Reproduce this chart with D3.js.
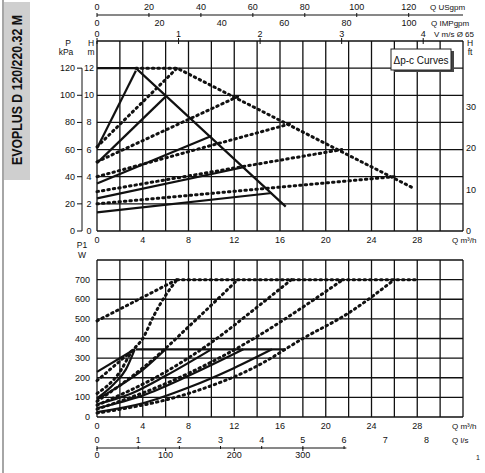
<!DOCTYPE html>
<html><head><meta charset="utf-8">
<script src="https://cdn.jsdelivr.net/npm/d3@7"></script>
<style>body{margin:0;background:#fff}text{font-family:"Liberation Sans",Arial,sans-serif;fill:#111}</style>
</head><body><svg id="c" width="485" height="473"></svg>
<script>
// head curves, Q m3/h vs H m
var headMaxSolid = [[0, 12], [3.4, 12], [16.5, 1.8]];
var headMaxDotted = [[3.4, 12], [7, 12], [27.8, 3.1]];
var headSolid = [
  [[0, 6.1], [3.4, 11.8]],
  [[0, 5], [6, 9.9]],
  [[0, 3.5], [10, 7]],
  [[0, 2.4], [12.8, 4.7]],
  [[0, 1.37], [15.3, 2.8]]
];
var headDotted = [
  [[0, 6.2], [7, 12]],
  [[0, 5.1], [12.3, 9.9]],
  [[0, 4], [16.9, 7.9]],
  [[0, 2.9], [21.4, 6]],
  [[0, 2], [26, 4]]
];
// power curves, Q m3/h vs P1 W
var powerFlatSolid = [[3.4, 345], [16.5, 345]];
var powerFlatDotted = [[7, 700], [28, 700]];
var powerSolid = [
  [[0, 230], [3.3, 345]],
  [[0, 95], [1.5, 170], [2.5, 240], [3.3, 345]],
  [[0, 90], [2, 160], [4, 240], [6, 345]],
  [[0, 65], [3, 120], [6, 210], [10, 345]],
  [[0, 45], [4, 110], [8, 210], [12.8, 345]],
  [[0, 25], [4, 70], [8, 150], [12, 250], [15.3, 345]]
];
var powerDotted = [
  [[0, 490], [6, 670], [7, 700]],
  [[0, 185], [3.2, 345]],
  [[0, 120], [2, 230], [3, 330], [4, 400], [5, 520], [6, 620], [7, 700]],
  [[0, 80], [4, 250], [6, 350], [8, 460], [10, 570], [12.3, 700]],
  [[0, 60], [6, 230], [10, 380], [14, 560], [17, 700]],
  [[0, 40], [6, 170], [10, 280], [14, 410], [18, 560], [21.5, 700]],
  [[0, 20], [8, 120], [14, 260], [18, 400], [22, 530], [26, 700]]
];
var qTicks = [0, 4, 8, 12, 16, 20, 24, 28];
var usgpmTicks = [0, 20, 40, 60, 80, 100, 120];
var impTicks = [0, 20, 40, 60, 80, 100];
var velTicks = [0, 1, 2, 3, 4];
var hTicks = [0, 2, 4, 6, 8, 10, 12];
var kpaTicks = [0, 20, 40, 60, 80, 100, 120];
var ftTicks = [0, 10, 20, 30];
var pTicks = [0, 100, 200, 300, 400, 500, 600, 700];
var lsTicks = [0, 1, 2, 3, 4, 5, 6, 7, 8];
var lminTicks = [0, 100, 200, 300];

var svg = d3.select("#c");
var x = d3.scaleLinear().domain([0, 32]).range([97, 463]);
var yH = d3.scaleLinear().domain([0, 14]).range([231, 41]);
var yP = d3.scaleLinear().domain([0, 800]).range([417, 260]);

// title block
svg.append("line").attr("x1", 3).attr("x2", 3).attr("y1", 0).attr("y2", 473).attr("stroke", "#888").attr("stroke-width", 1.5);
svg.append("rect").attr("x", 4).attr("y", 2).attr("width", 26).attr("height", 178).attr("fill", "#cfcfcf");
svg.append("text").attr("transform", "translate(22,90) rotate(-90)").attr("text-anchor", "middle")
  .attr("textLength", 150).attr("lengthAdjust", "spacingAndGlyphs")
  .style("font-size", "14px").style("font-weight", "bold")
  .text("EVOPLUS D 120/220.32 M");

function grid(y, yMax, yStep) {
  var g = svg.append("g").attr("stroke", "#111").attr("stroke-width", 1.3);
  d3.range(0, 32.1, 2).forEach(function (q) {
    g.append("line").attr("x1", x(q)).attr("x2", x(q)).attr("y1", y(0)).attr("y2", y(yMax));
  });
  d3.range(0, yMax + 0.1, yStep).forEach(function (v) {
    g.append("line").attr("x1", x(0)).attr("x2", x(32)).attr("y1", y(v)).attr("y2", y(v));
  });
}
grid(yH, 14, 2);
grid(yP, 800, 100);

function txt(xx, yy, s, anchor, size) {
  return svg.append("text").attr("x", xx).attr("y", yy).attr("text-anchor", anchor || "middle")
    .style("font-size", (size || 9) + "px").text(s);
}

// top scales
svg.append("line").attr("x1", x(0)).attr("x2", 463).attr("y1", 15).attr("y2", 15).attr("stroke", "#111");
usgpmTicks.forEach(function (t) {
  var px = x(t * 0.2271);
  txt(px, 10, t);
  svg.append("line").attr("x1", px).attr("x2", px).attr("y1", 13).attr("y2", 17).attr("stroke", "#111");
});
txt(430, 10, "Q USgpm", "start", 8);
impTicks.forEach(function (t) { txt(x(t * 0.2728), 26, t); });
txt(431, 26, "Q IMPgpm", "start", 8);
velTicks.forEach(function (t) {
  txt(x(t * 7.13), 37, t);
  svg.append("line").attr("x1", x(t * 7.13)).attr("x2", x(t * 7.13)).attr("y1", 38).attr("y2", 44).attr("stroke", "#111");
});
txt(434, 37, "V m/s Ø 65", "start", 8);

// left/right head axes
txt(68, 46, "P", "middle", 8.5); txt(66, 55, "kPa", "middle", 8.5);
txt(91, 46, "H", "middle", 8.5); txt(91, 55, "m", "middle", 8.5);
kpaTicks.forEach(function (t) {
  txt(75, yH(t / 10) + 3, t, "end");
  svg.append("line").attr("x1", 77).attr("x2", 82).attr("y1", yH(t / 10)).attr("y2", yH(t / 10)).attr("stroke", "#111");
});
hTicks.forEach(function (t) { txt(89, yH(t) + 3, t, "middle"); });
svg.append("line").attr("x1", 82).attr("x2", 82).attr("y1", yH(0)).attr("y2", yH(12)).attr("stroke", "#111");
txt(470, 46, "H", "middle", 8.5); txt(470, 55, "ft", "middle", 8.5);
ftTicks.forEach(function (t) { txt(466, yH(t * 0.3048) + 3, t, "start"); });
qTicks.forEach(function (t) { txt(x(t), 243, t); });
txt(452, 243, "Q m³/h", "start", 8);

// legend box
svg.append("rect").attr("x", 394).attr("y", 51).attr("width", 60).attr("height", 21).attr("fill", "#444");
svg.append("rect").attr("x", 391).attr("y", 49).attr("width", 60).attr("height", 21).attr("fill", "#fff").attr("stroke", "#222");
txt(421, 64, "Δp-c Curves", "middle", 10);

// bottom axes
txt(82, 248, "P1", "middle", 8.5); txt(82, 258, "W", "middle", 8.5);
pTicks.forEach(function (t) { txt(90, yP(t) + 3, t, "end"); });
qTicks.forEach(function (t) { txt(x(t), 429, t); });
txt(452, 429, "Q m³/h", "start", 8);
lsTicks.forEach(function (t) {
  txt(x(t * 3.6), 443, t);
  if (t <= 6) svg.append("line").attr("x1", x(t * 3.6)).attr("x2", x(t * 3.6)).attr("y1", 446).attr("y2", 449).attr("stroke", "#111");
});
txt(452, 443, "Q l/s", "start", 8);
svg.append("line").attr("x1", x(0)).attr("x2", x(21.8)).attr("y1", 448).attr("y2", 448).attr("stroke", "#111");
lminTicks.forEach(function (t) {
  txt(x(t * 0.06), 458, t);
  svg.append("line").attr("x1", x(t * 0.06)).attr("x2", x(t * 0.06)).attr("y1", 448).attr("y2", 451).attr("stroke", "#111");
});
txt(478, 460, "1", "middle", 7);

function draw(pts, y, dotted, curved) {
  var line = d3.line().x(function (d) { return x(d[0]); }).y(function (d) { return y(d[1]); })
    .curve(curved ? d3.curveMonotoneX : d3.curveLinear);
  var p = svg.append("path").attr("d", line(pts)).attr("fill", "none").attr("stroke", "#111");
  if (dotted) p.attr("stroke-width", 3).attr("stroke-dasharray", "1.5,4").attr("stroke-linecap", "round");
  else p.attr("stroke-width", 2.2);
}
headDotted.forEach(function (l) { draw(l, yH, true); });
draw(headMaxDotted, yH, true);
headSolid.forEach(function (l) { draw(l, yH, false); });
draw(headMaxSolid, yH, false);
powerDotted.forEach(function (l) { draw(l, yP, true, true); });
draw(powerFlatDotted, yP, true);
powerSolid.forEach(function (l) { draw(l, yP, false, true); });
draw(powerFlatSolid, yP, false);
</script></body></html>
